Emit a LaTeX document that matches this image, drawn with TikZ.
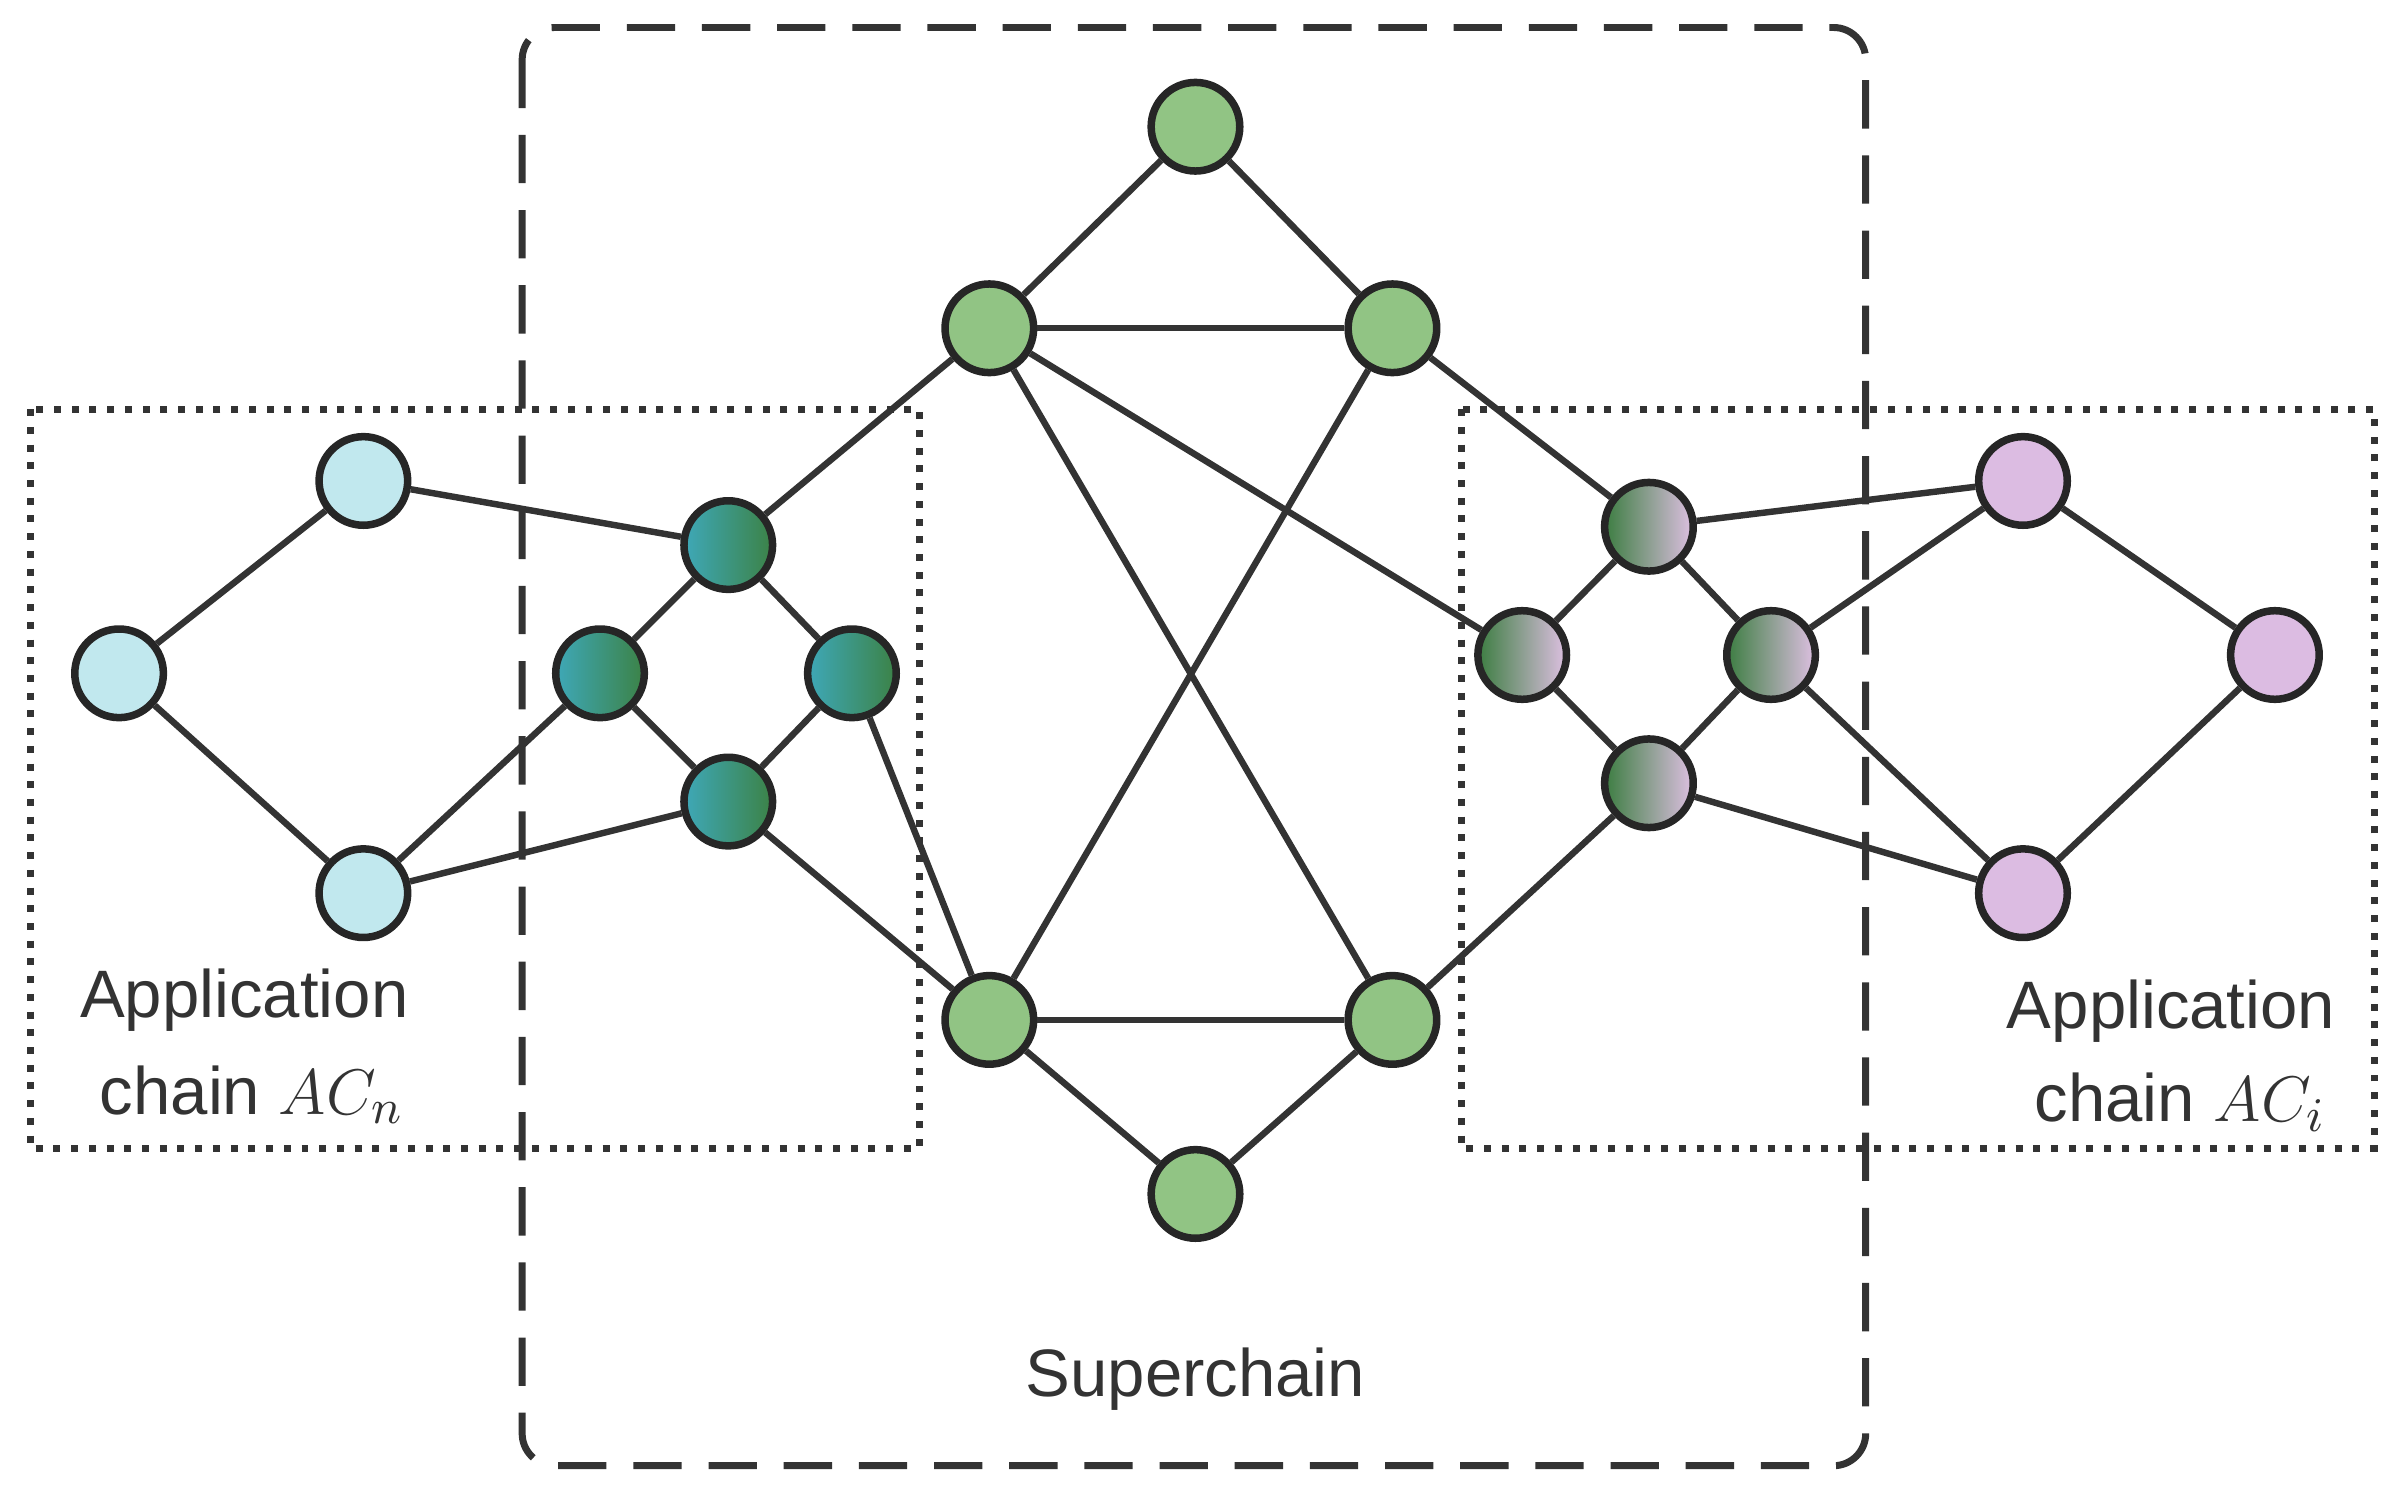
\documentclass[tikz,border=0pt]{standalone}
\usepackage{fontspec}
\setmainfont{Liberation Sans}
\begin{document}
\begin{tikzpicture}[x=0.01cm,y=-0.01cm,
  nd/.style={circle,draw=black!85,line width=1.4pt,minimum size=0.58cm,inner sep=0pt},
  gn/.style={nd,fill=green!45!black!15!white,fill={rgb,255:red,145;green,196;blue,132}},
  cy/.style={nd,fill={rgb,255:red,193;green,232;blue,238}},
  pk/.style={nd,fill={rgb,255:red,220;green,188;blue,226}},
  bg/.style={nd,left color={rgb,255:red,62;green,168;blue,184},right color={rgb,255:red,60;green,130;blue,70}},
  gp/.style={nd,left color={rgb,255:red,60;green,125;blue,65},right color={rgb,255:red,222;green,192;blue,226}},
  ed/.style={line width=1.2pt,draw=black!80},
  lbl/.style={text=black!80,font=\fontsize{12.5}{14}\selectfont}]
\useasboundingbox (0,0) rectangle (1568,978);
\draw[line width=1.3pt,black!80,dash pattern=on 9pt off 5pt,rounded corners=6pt] (342,18) rectangle (1222,960);
\draw[line width=1.3pt,black!80,dotted] (20,268) rectangle (602,752);
\draw[line width=1.3pt,black!80,dotted] (957,268) rectangle (1555,752);
\node[gn] (t) at (783,83) {};
\node[gn] (l1) at (648,215) {};
\node[gn] (r1) at (912,215) {};
\node[gn] (lb) at (648,668) {};
\node[gn] (rb) at (912,668) {};
\node[gn] (b) at (783,782) {};
\node[bg] (at) at (477,357) {};
\node[bg] (al) at (393,441) {};
\node[bg] (ar) at (558,441) {};
\node[bg] (ab) at (477,525) {};
\node[cy] (c1) at (238,315) {};
\node[cy] (c2) at (78,441) {};
\node[cy] (c3) at (238,585) {};
\node[gp] (bt) at (1080,345) {};
\node[gp] (bl) at (997,429) {};
\node[gp] (br) at (1160,429) {};
\node[gp] (bb) at (1080,513) {};
\node[pk] (p1) at (1325,315) {};
\node[pk] (p2) at (1490,429) {};
\node[pk] (p3) at (1325,585) {};
\begin{scope}[on background layer/.style={}]
\end{scope}
\foreach \a/\b in {t/l1,t/r1,l1/r1,l1/rb,l1/at,l1/bl,r1/lb,r1/bt,lb/rb,lb/b,rb/b,lb/ar,lb/ab,rb/bb,
  at/al,at/ar,al/ab,ar/ab,c1/c2,c2/c3,c1/at,c3/al,c3/ab,
  bt/bl,bt/br,bl/bb,br/bb,bt/p1,br/p1,br/p3,bb/p3,p1/p2,p2/p3}
  \draw[ed] (\a) -- (\b);
\node[lbl] (la1) at (160,655) {Application};
\node[lbl] (la2) at (165,717) {chain $AC_n$};
\node[lbl] (ra1) at (1422,662) {Application};
\node[lbl] (ra2) at (1428,722) {chain $AC_i$};
\node[lbl] (sc) at (783,903) {Superchain};
\end{tikzpicture}
\end{document}
